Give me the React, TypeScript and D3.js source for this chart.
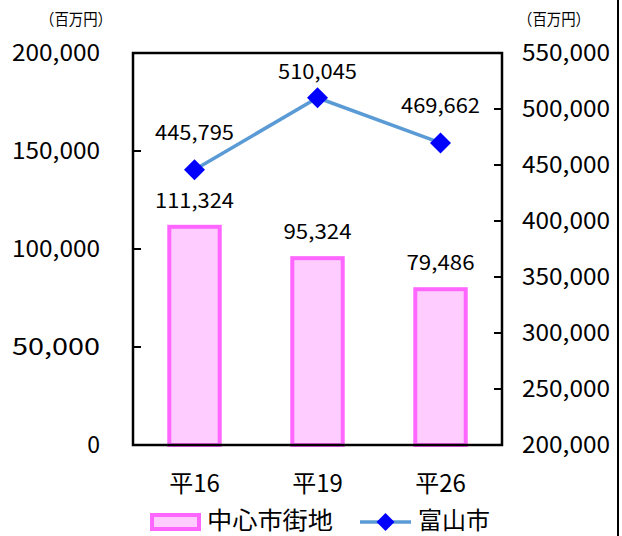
import React from "react";
import * as d3 from "d3";

const categories = ["平16", "平19", "平26"];
const barValues = [111324, 95324, 79486];
const lineValues = [445795, 510045, 469662];
const leftTicks = [0, 50000, 100000, 150000, 200000];
const rightTicks = [200000, 250000, 300000, 350000, 400000, 450000, 500000, 550000];
const barName = "中心市街地";
const lineName = "富山市";
const unitLabel = "（百万円）";

const W = 622, H = 536;
const L = 133, R = 502, T = 53, B = 445;
const FONT = "'Noto Sans CJK JP', 'Noto Sans', sans-serif";

export default function App() {
  const x = d3.scaleBand<string>().domain(categories).range([L, R]).paddingInner(0).paddingOuter(0);
  const yL = d3.scaleLinear().domain([0, 200000]).range([B, T]);
  const yR = d3.scaleLinear().domain([200000, 550000]).range([B, T]);
  const fmt = d3.format(",");
  const bw = x.bandwidth() * 0.41;
  const cx = (c: string) => (x(c) as number) + x.bandwidth() / 2;
  const line = d3.line<number>().x((_, i) => cx(categories[i])).y((d) => yR(d));
  const diamond = (px: number, py: number, r: number) =>
    `M${px},${py - r}L${px + r},${py}L${px},${py + r}L${px - r},${py}Z`;

  return (
    <svg width={W} height={H} style={{ position: "absolute", left: 0, top: 0, background: "#fff" }} fontFamily={FONT}>
      <rect x={0} y={0} width={W} height={H} fill="#fff" />
      <line x1={618} x2={618} y1={0} y2={H} stroke="#000" strokeWidth={2} />
      {/* bars */}
      {categories.map((c, i) => (
        <rect key={c} x={cx(c) - bw / 2} y={yL(barValues[i])} width={bw} height={B - yL(barValues[i])}
          fill="#FFCCFF" stroke="#FF66FF" strokeWidth={4} />
      ))}
      {/* plot frame */}
      <rect x={L} y={T} width={R - L} height={B - T} fill="none" stroke="#000" strokeWidth={2.5} />
      {/* left ticks */}
      {leftTicks.map((t) => (
        <g key={"l" + t}>
          <line x1={L} x2={L + 8} y1={yL(t)} y2={yL(t)} stroke="#000" strokeWidth={2} />
          <text x={100} y={yL(t)} dy="0.36em" textAnchor="end" fontSize={23}
            textLength={t === 0 ? undefined : 88} lengthAdjust="spacingAndGlyphs">{fmt(t)}</text>
        </g>
      ))}
      {rightTicks.map((t) => (
        <g key={"r" + t}>
          <line x1={R - 8} x2={R} y1={yR(t)} y2={yR(t)} stroke="#000" strokeWidth={2} />
          <text x={522} y={yR(t)} dy="0.36em" textAnchor="start" fontSize={23}
            textLength={88} lengthAdjust="spacingAndGlyphs">{fmt(t)}</text>
        </g>
      ))}
      <text x={40} y={25} fontSize={16} textLength={72} lengthAdjust="spacingAndGlyphs">{unitLabel}</text>
      <text x={518} y={25} fontSize={16} textLength={72} lengthAdjust="spacingAndGlyphs">{unitLabel}</text>
      {/* bar labels */}
      {categories.map((c, i) => (
        <text key={"bl" + c} x={cx(c)} y={yL(barValues[i]) - 26} dy="0.36em" textAnchor="middle" fontSize={20}
          textLength={barValues[i] >= 100000 ? 79 : 68} lengthAdjust="spacingAndGlyphs">{fmt(barValues[i])}</text>
      ))}
      {/* line */}
      <path d={line(lineValues) || ""} fill="none" stroke="#5B9BD5" strokeWidth={3.5} />
      {categories.map((c, i) => (
        <path key={"m" + c} d={diamond(cx(c), yR(lineValues[i]), 10.5)} fill="#0000FF" />
      ))}
      {categories.map((c, i) => (
        <text key={"ll" + c} x={cx(c)} y={Math.max(yR(lineValues[i]) - 37, T + 19)} dy="0.36em" textAnchor="middle" fontSize={20}
          textLength={79} lengthAdjust="spacingAndGlyphs">{fmt(lineValues[i])}</text>
      ))}
      {/* categories */}
      {categories.map((c) => (
        <text key={"c" + c} x={cx(c)} y={483} dy="0.36em" textAnchor="middle" fontSize={24}>{c}</text>
      ))}
      {/* legend */}
      <rect x={152} y={515} width={47} height={14} fill="#FFCCFF" stroke="#FF66FF" strokeWidth={4} />
      <text x={207} y={520} dy="0.36em" fontSize={24} textLength={126} lengthAdjust="spacingAndGlyphs">{barName}</text>
      <line x1={360} x2={411} y1={522} y2={522} stroke="#5B9BD5" strokeWidth={3.5} />
      <path d={diamond(385.5, 522, 9)} fill="#0000FF" />
      <text x={418} y={520} dy="0.36em" fontSize={24} textLength={72} lengthAdjust="spacingAndGlyphs">{lineName}</text>
    </svg>
  );
}
